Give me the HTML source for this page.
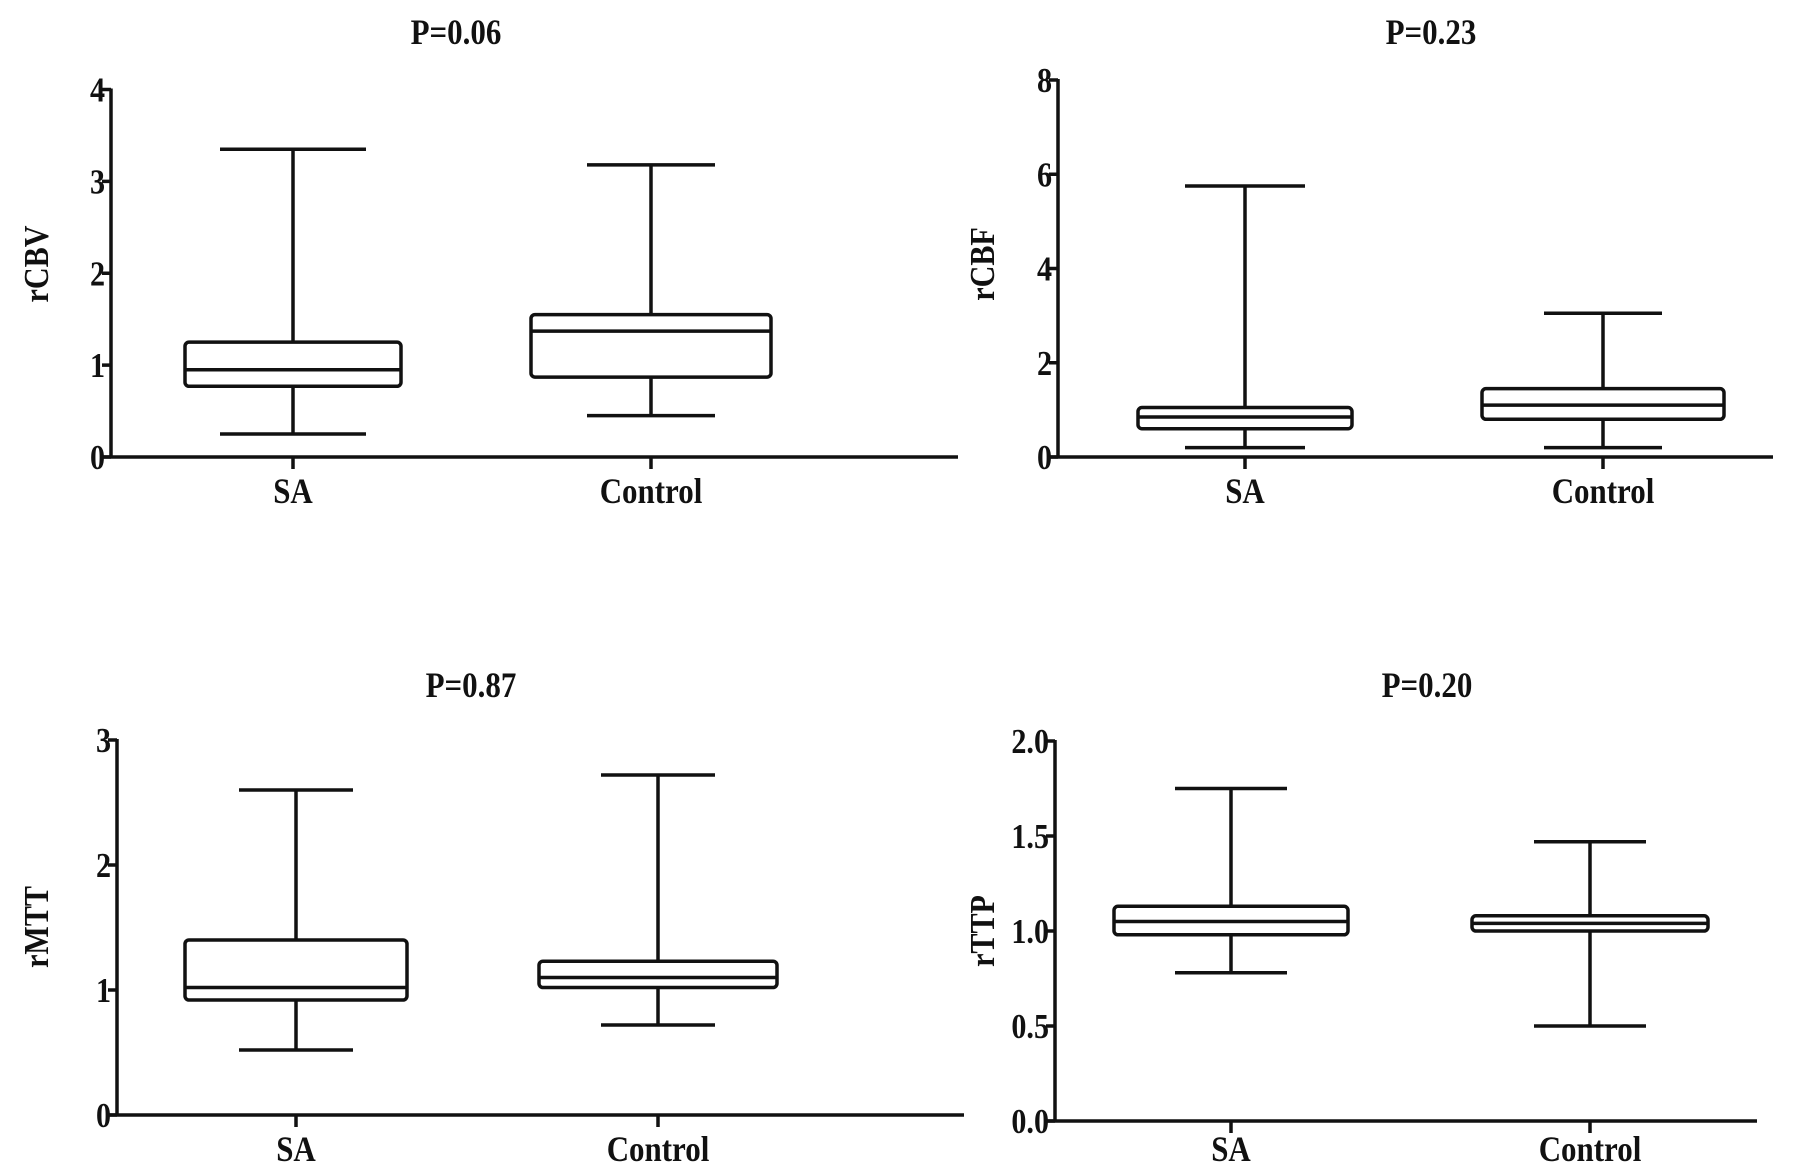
<!DOCTYPE html>
<html><head><meta charset="utf-8"><style>
body{margin:0;background:#fff}
svg{display:block}
text{font-family:"Liberation Serif",serif;font-weight:bold;fill:#111}
</style></head><body>
<svg id="c" width="1795" height="1175"></svg>
<script>
const categories = ["SA","Control"];
const titles = ["P=0.06","P=0.23","P=0.87","P=0.20"];
const yLabels = ["rCBV","rCBF","rMTT","rTTP"];
const ticks1 = [0,1,2,3,4];
const ticks2 = [0,2,4,6,8];
const ticks3 = [0,1,2,3];
const ticks4 = ["0.0","0.5","1.0","1.5","2.0"];
// [min,q1,median,q3,max] per category
const rCBV_SA = [0.25,0.77,0.95,1.25,3.35];
const rCBV_Control = [0.45,0.87,1.37,1.55,3.18];
const rCBF_SA = [0.2,0.6,0.85,1.05,5.75];
const rCBF_Control = [0.2,0.8,1.1,1.45,3.05];
const rMTT_SA = [0.52,0.92,1.02,1.4,2.6];
const rMTT_Control = [0.72,1.02,1.1,1.23,2.72];
const rTTP_SA = [0.78,0.98,1.05,1.13,1.75];
const rTTP_Control = [0.5,1.0,1.04,1.08,1.47];

const layout = [
 {ax:111,y0:457,y1:89.5,ymax:4,xend:958,cx:[293,651],bw:[108,120],cap:[73,64],tx:456,ty:44,lx:36,ly:264,xl:503,ticks:ticks1,data:[rCBV_SA,rCBV_Control]},
 {ax:1058,y0:457,y1:80,ymax:8,xend:1773,cx:[1245,1603],bw:[107,121],cap:[60,59],tx:1431,ty:44,lx:982,ly:264,xl:503,ticks:ticks2,data:[rCBF_SA,rCBF_Control]},
 {ax:117,y0:1115,y1:740,ymax:3,xend:964,cx:[296,658],bw:[111,119],cap:[57,57],tx:471,ty:697,lx:36,ly:927,xl:1161,ticks:ticks3,data:[rMTT_SA,rMTT_Control]},
 {ax:1055,y0:1121,y1:741,ymax:2,xend:1757,cx:[1231,1590],bw:[117,118],cap:[56,56],tx:1427,ty:697,lx:982,ly:931,xl:1161,ticks:ticks4,data:[rTTP_SA,rTTP_Control]}
];
const NS="http://www.w3.org/2000/svg";
const svg=document.getElementById('c');
function mk(tag,attrs,parent){const e=document.createElementNS(NS,tag);for(const k in attrs)e.setAttribute(k,attrs[k]);(parent||svg).appendChild(e);return e;}
function txt(x,y,s,size,anchor,parent,rot){
  const tr=`translate(${x} ${y})`+(rot?' rotate(-90)':'')+' scale(0.86 1)';
  const e=mk('text',{x:0,y:0,transform:tr,'text-anchor':anchor,'font-size':size},parent);
  e.textContent=s;return e;
}
layout.forEach((p,i)=>{
  const g=mk('g',{});
  
  
  const y=v=>p.y0-(v/p.ymax)*(p.y0-p.y1);
  const st={stroke:'#111','stroke-width':3.5,fill:'none'};
  const t=txt(p.tx,p.ty,titles[i],36,'middle',g);
  
  
  const yl=txt(p.lx+12,p.ly,yLabels[i],35,'middle',g,true);
  
  
  const ya=mk('line',Object.assign({x1:p.ax,x2:p.ax,y1:p.y1-1,y2:p.y0},st),g);
  
  
  const xa=mk('line',Object.assign({x1:p.ax-10,x2:p.xend,y1:p.y0,y2:p.y0},st),g);
  
  
  p.ticks.forEach(tv=>{
    const yy=y(parseFloat(tv));
    mk('line',Object.assign({x1:p.ax-9,x2:p.ax,y1:yy,y2:yy},st),g);
    const tl=txt(p.ax-6,yy+12,String(tv),35,'end',g);
    
    
  });
  categories.forEach((c,j)=>{
    const cx=p.cx[j],d=p.data[j],hw=p.bw[j],cw=p.cap[j];
    mk('line',Object.assign({x1:cx,x2:cx,y1:p.y0,y2:p.y0+12},st),g);
    const xt=txt(cx,p.xl,c,36,'middle',g);
    
    
    const bg=mk('g',{},g);
    
    
    mk('line',Object.assign({x1:cx,x2:cx,y1:y(d[4]),y2:y(d[3])},st),bg);
    mk('line',Object.assign({x1:cx,x2:cx,y1:y(d[1]),y2:y(d[0])},st),bg);
    mk('line',Object.assign({x1:cx-cw,x2:cx+cw,y1:y(d[4]),y2:y(d[4])},st),bg);
    mk('line',Object.assign({x1:cx-cw,x2:cx+cw,y1:y(d[0]),y2:y(d[0])},st),bg);
    mk('rect',Object.assign({x:cx-hw,y:y(d[3]),width:2*hw,height:y(d[1])-y(d[3]),rx:4},st),bg);
    mk('line',Object.assign({x1:cx-hw,x2:cx+hw,y1:y(d[2]),y2:y(d[2])},st),bg);
  });
});
</script>
</body></html>
